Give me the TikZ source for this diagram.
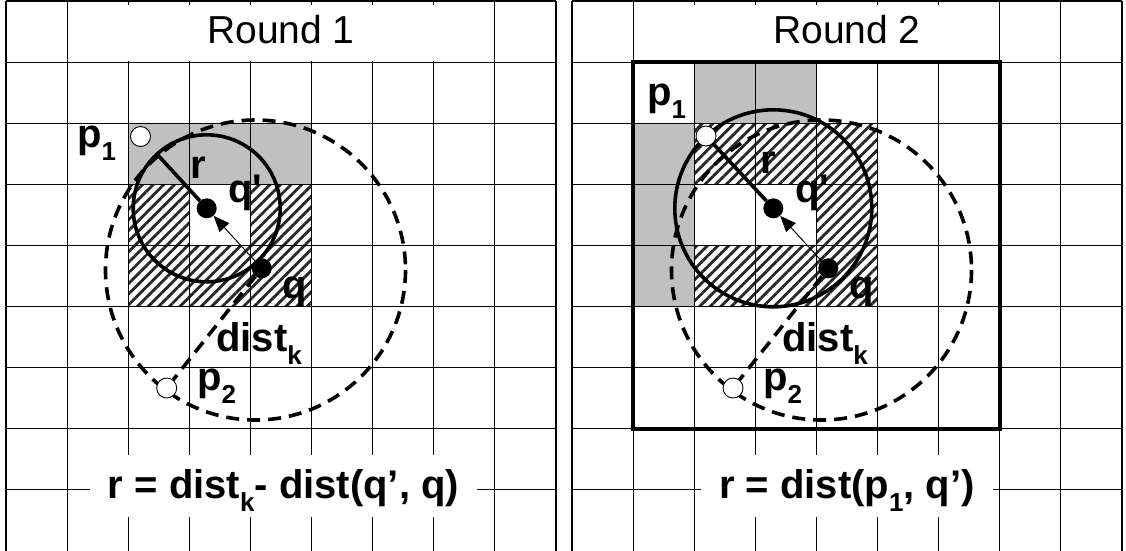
\documentclass[tikz,border=0pt]{standalone}
\usepackage{fontspec}
\setmainfont{Liberation Sans}
\usetikzlibrary{patterns.meta,arrows.meta,calc}
\definecolor{cellgray}{RGB}{192,192,192}
\newcommand\lsub[1]{\raisebox{-13pt}{\fontsize{26}{26}\selectfont #1}}
\def\s{61.11}
\pgfdeclarelayer{bg}
\pgfdeclarelayer{mid}
\pgfsetlayers{bg,mid,main}
\begin{document}
\begin{tikzpicture}[x=1pt,y=-1pt,
  gridline/.style={line width=1.2pt},
  framebold/.style={line width=3.6pt},
  solidcirc/.style={line width=3.6pt},
  dashline/.style={line width=3.6pt,dash pattern=on 13pt off 8pt},
  hatch/.style={pattern={Lines[angle=45,distance=7.5pt,line width=2.8pt]},pattern color=black!85},
  dot/.style={circle,fill=black,inner sep=0pt,minimum size=20pt},
  opendot/.style={circle,draw=black,fill=white,line width=0.9pt,inner sep=0pt,minimum size=20pt},
  lbl/.style={font=\fontsize{40}{46}\selectfont\bfseries,inner sep=0pt},
  ttl/.style={font=\fontsize{39}{46}\selectfont,inner sep=0pt},
  formula/.style={font=\fontsize{40}{46}\selectfont\bfseries,fill=white,inner xsep=18pt,inner ysep=0pt,text height=43pt,text depth=19pt},
  arr/.style={line width=1pt,-{Triangle[length=16pt,width=13pt]}},
]
\useasboundingbox (0,0) rectangle (1126,550);
\begin{pgfonlayer}{bg}
\fill[white] (0,0) rectangle (1126,550);
\end{pgfonlayer}

% ---------------- LEFT PANEL ----------------
\begin{scope}[shift={(6,1)}]
\begin{pgfonlayer}{bg}
  \fill[cellgray] ({2*\s},{2*\s}) rectangle ({5*\s},{3*\s});
  \path[hatch] ({2*\s},{3*\s}) rectangle ({3*\s},{4*\s});
  \path[hatch] ({4*\s},{3*\s}) rectangle ({5*\s},{4*\s});
  \path[hatch] ({2*\s},{4*\s}) rectangle ({5*\s},{5*\s});
  \foreach \i in {0,...,9} \draw[gridline] ({\i*\s},0) -- ({\i*\s},549.5);
  \foreach \j in {0,...,8} \draw[gridline] (0,{\j*\s}) -- ({9*\s},{\j*\s});
  \fill[white] ({\s+0.8},3.5) rectangle ({8*\s-0.8},{\s-0.8});
\end{pgfonlayer}
  \node[ttl,anchor=base] (tA) at (275,42.3) {Round 1};
  \node[formula,anchor=base] (fA) at (277.5,497) {r = dist\lsub{k}- dist(q’, q)};
  \node[dot] (qpA) at (200.7,207.3) {};
  \node[dot] (qA) at (255.7,267.3) {};
  \node[opendot] (p1A) at (134.5,135.5) {};
  \node[opendot] (p2A) at (160.7,387) {};
  \coordinate (rendA) at ($(qpA)!-73.5pt!(qA)$);
  \node[lbl,anchor=base west] (lp1A) at (71,146) {p\lsub{1}};
  \node[lbl,anchor=base west] (lrA) at (184,177) {r};
  \node[lbl,anchor=base west] (lqpA) at (222,201) {q\textquotesingle};
  \node[lbl,anchor=base west] (lqA) at (276,297.5) {q};
  \node[lbl,anchor=base west] (ldA) at (210,350.7) {dist\lsub{k}};
  \node[lbl,anchor=base west] (lp2A) at (191,389) {p\lsub{2}};
\begin{pgfonlayer}{mid}
  \draw[dashline] (249.5,269) circle[radius=150];
  \draw[solidcirc] (qpA.center) circle[radius=73.5];
  \draw[solidcirc] (qpA) -- (rendA);
  \draw[arr] (qA) -- (qpA);
  \draw[dashline] (qA) -- (p2A);
\end{pgfonlayer}
\end{scope}

% ---------------- RIGHT PANEL ----------------
\begin{scope}[shift={(572,1)}]
\begin{pgfonlayer}{bg}
  \fill[cellgray] ({2*\s},{1*\s}) rectangle ({4*\s},{2*\s});
  \fill[cellgray] ({1*\s},{2*\s}) rectangle ({2*\s},{5*\s});
  \path[hatch] ({2*\s},{2*\s}) rectangle ({5*\s},{3*\s});
  \path[hatch] ({4*\s},{3*\s}) rectangle ({5*\s},{4*\s});
  \path[hatch] ({2*\s},{4*\s}) rectangle ({5*\s},{5*\s});
  \foreach \i in {0,...,9} \draw[gridline] ({\i*\s},0) -- ({\i*\s},549.5);
  \foreach \j in {0,...,8} \draw[gridline] (0,{\j*\s}) -- ({9*\s},{\j*\s});
  \fill[white] ({\s+0.8},3.5) rectangle ({7*\s-0.8},{\s-0.8});
  \draw[framebold] ({\s},{\s}) rectangle ({7*\s},{7*\s});
\end{pgfonlayer}
  \node[ttl,anchor=base] (tB) at (275,42.3) {Round 2};
  \node[formula,anchor=base] (fB) at (275,497) {r = dist(p\lsub{1}, q’)};
  \node[dot] (qpB) at (201.3,207.3) {};
  \node[dot] (qB) at (256.3,267.3) {};
  \node[opendot] (p1B) at (134,135) {};
  \node[opendot] (p2B) at (161,387) {};
  \node[lbl,anchor=base west] (lp1B) at (75,104) {p\lsub{1}};
  \node[lbl,anchor=base west] (lrB) at (188,172) {r};
  \node[lbl,anchor=base west] (lqpB) at (223,201) {q\textquotesingle};
  \node[lbl,anchor=base west] (lqB) at (277,297.5) {q};
  \node[lbl,anchor=base west] (ldB) at (210,350.7) {dist\lsub{k}};
  \node[lbl,anchor=base west] (lp2B) at (191,389) {p\lsub{2}};
\begin{pgfonlayer}{mid}
  \draw[dashline] (249.5,269) circle[radius=150];
  \draw[solidcirc] (qpB.center) circle[radius=98.5];
  \draw[solidcirc] (qpB) -- (p1B);
  \draw[arr] (qB) -- (qpB);
  \draw[dashline] (qB) -- (p2B);
\end{pgfonlayer}
\end{scope}
\end{tikzpicture}
\end{document}
